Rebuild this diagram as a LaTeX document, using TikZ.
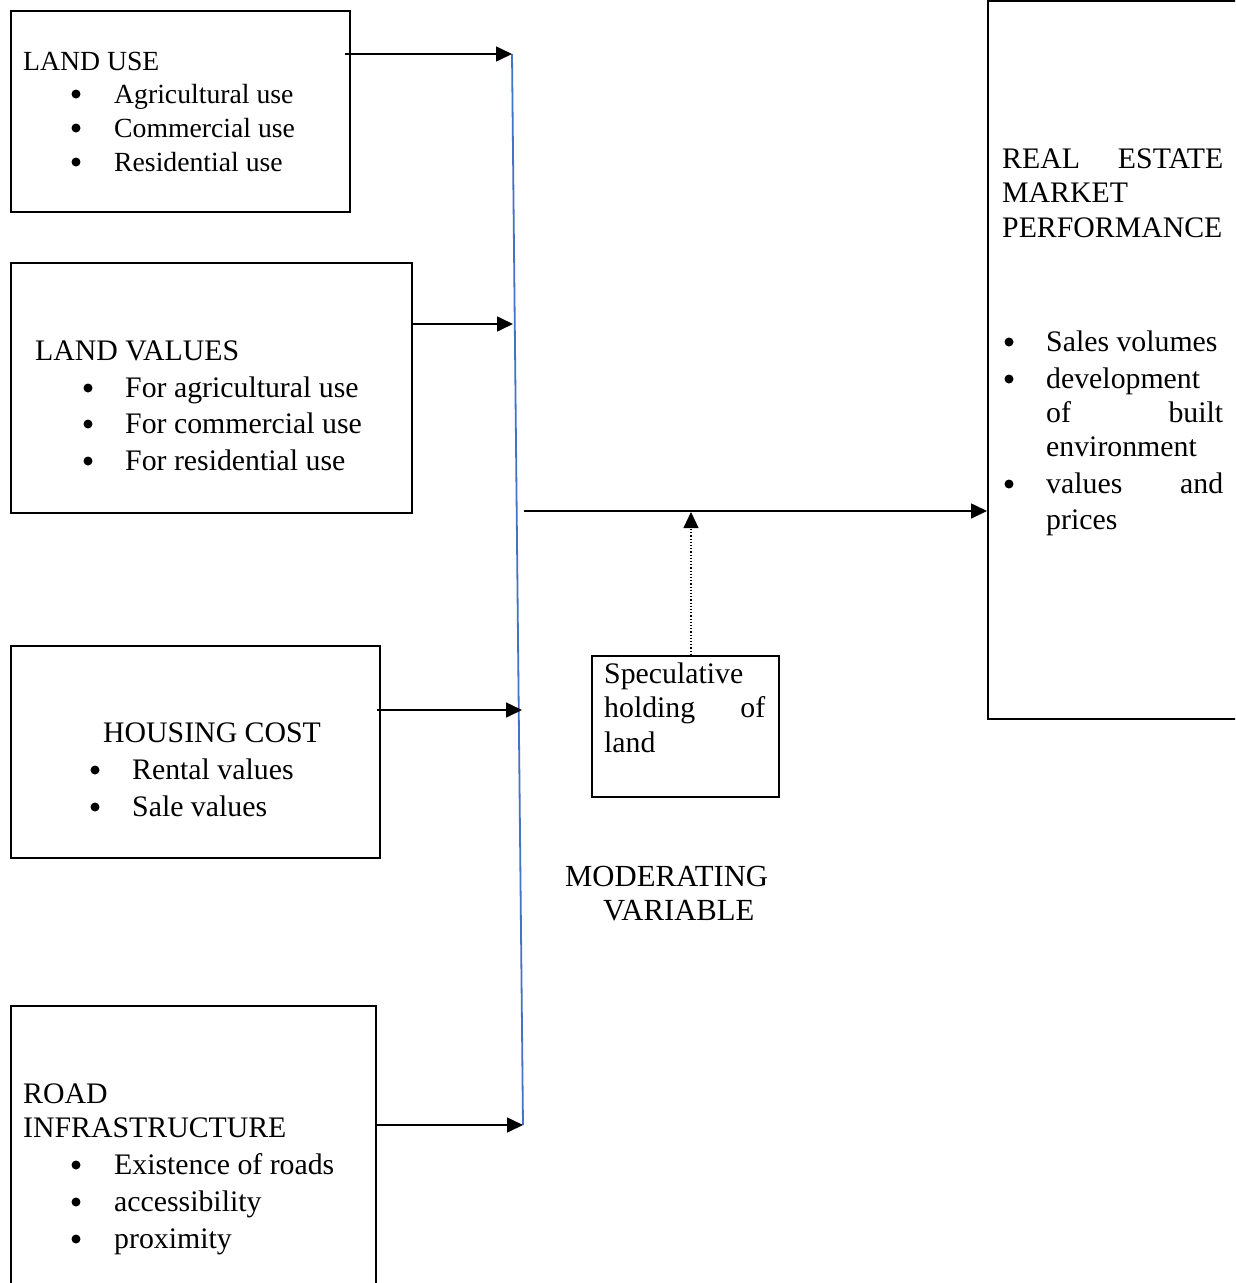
\documentclass[tikz,border=0pt]{standalone}
\usepackage{fontspec}
\setmainfont{Liberation Serif}
\usetikzlibrary{arrows.meta}
\definecolor{wordblue}{RGB}{68,114,196}
\begin{document}
\begin{tikzpicture}[x=1pt,y=-1pt,
  box/.style={draw, line width=2pt, anchor=north west, inner sep=0pt},
  txt/.style={anchor=base west, inner sep=0pt, font=\fontsize{29.8}{34}\selectfont},
  smalltxt/.style={txt, font=\fontsize{27.7}{34}\selectfont},
  bigtxt/.style={txt, font=\fontsize{30.7}{34}\selectfont},
  arr/.style={-{Triangle[length=16pt,width=15pt]}, line width=1.6pt},
  bul/.style={circle, fill=black, inner sep=0pt, minimum size=9pt}]
\useasboundingbox (0,0) rectangle (1235,1283);
\begin{scope}
\clip (0,0) rectangle (1235,1283);
% boxes
\node[box, minimum width=339pt, minimum height=201pt] (lu) at (10,10) {};
\node[box, minimum width=401pt, minimum height=250pt] (lv) at (10,262) {};
\node[box, minimum width=369pt, minimum height=212pt] (hc) at (10,645) {};
\node[box, minimum width=365pt, minimum height=300pt] (ri) at (10,1005) {};
\node[box, minimum width=300pt, minimum height=718pt] (re) at (987,0) {};
\node[box, minimum width=187pt, minimum height=141pt] (sp) at (591,655) {};
\end{scope}

% LAND USE
\node[smalltxt] (t1) at (23,70) {LAND USE};
\foreach \y/\t [count=\i] in {103/Agricultural use,137/Commercial use,171/Residential use}{
  \node[bul] (b1\i) at (76,\y-9) {};
  \node[smalltxt] (t1\i) at (114,\y) {\t};
}
% LAND VALUES
\node[txt] (t2) at (35,360) {LAND VALUES};
\foreach \y/\t [count=\i] in {397/For agricultural use,433/For commercial use,470/For residential use}{
  \node[bul] (b2\i) at (88,\y-9) {};
  \node[txt] (t2\i) at (125,\y) {\t};
}
% HOUSING COST
\node[txt] (t3) at (103,742) {HOUSING COST};
\foreach \y/\t [count=\i] in {779/Rental values,816/Sale values}{
  \node[bul] (b3\i) at (95,\y-9) {};
  \node[txt] (t3\i) at (132,\y) {\t};
}
% ROAD INFRASTRUCTURE
\node[txt] (t4a) at (23,1103) {ROAD};
\node[txt] (t4b) at (23,1137) {INFRASTRUCTURE};
\foreach \y/\t [count=\i] in {1174/Existence of roads,1211/accessibility,1248/proximity}{
  \node[bul] (b4\i) at (76,\y-9) {};
  \node[txt] (t4\i) at (114,\y) {\t};
}
% REAL ESTATE
\node[txt] (t5a) at (1002,168) {\makebox[221pt][s]{REAL ESTATE}};
\node[txt] (t5b) at (1002,202) {MARKET};
\node[txt] (t5c) at (1002,237) {PERFORMANCE};
\node[bul] (b51) at (1009,342) {};
\node[txt] (t51) at (1046,351) {Sales volumes};
\node[bul] (b52) at (1009,379) {};
\node[txt] (t52) at (1046,388) {development};
\node[txt] (t53) at (1046,422) {\makebox[177pt][s]{of built}};
\node[txt] (t54) at (1046,456) {environment};
\node[bul] (b55) at (1009,484) {};
\node[txt] (t55) at (1046,493) {\makebox[177pt][s]{values and}};
\node[txt] (t56) at (1046,529) {prices};
% Speculative
\node[txt] (t6a) at (604,683) {Speculative};
\node[txt] (t6b) at (604,717) {\makebox[161pt][s]{holding of}};
\node[txt] (t6c) at (604,752) {land};
% Moderating
\node[bigtxt] (t7a) at (565,886) {MODERATING};
\node[bigtxt] (t7b) at (603,920) {VARIABLE};

% blue line
\coordinate (bt) at (512,54);
\coordinate (bb) at (523,1125);
\draw[wordblue, line width=1.8pt] (bt) -- (bb);
\coordinate (m1) at (524,511);
\coordinate (m2) at (987,511);
\coordinate (mod) at (691,512);
% arrows
\draw[arr] (345,54) -- (bt);
\draw[arr] (lv.east |- 0,324) ++(-2,0) -- (513,324);
\draw[arr] (hc.east |- 0,710) ++(-4,0) -- (522,710);
\draw[arr] (ri.east |- 0,1125) -- (bb);
\draw[arr] (m1) -- (re.west |- m2);
\draw[dotted, line width=1.2pt, -{Triangle[length=16pt,width=15pt]}] (sp.north -| mod) -- (mod);
\end{tikzpicture}
\end{document}
